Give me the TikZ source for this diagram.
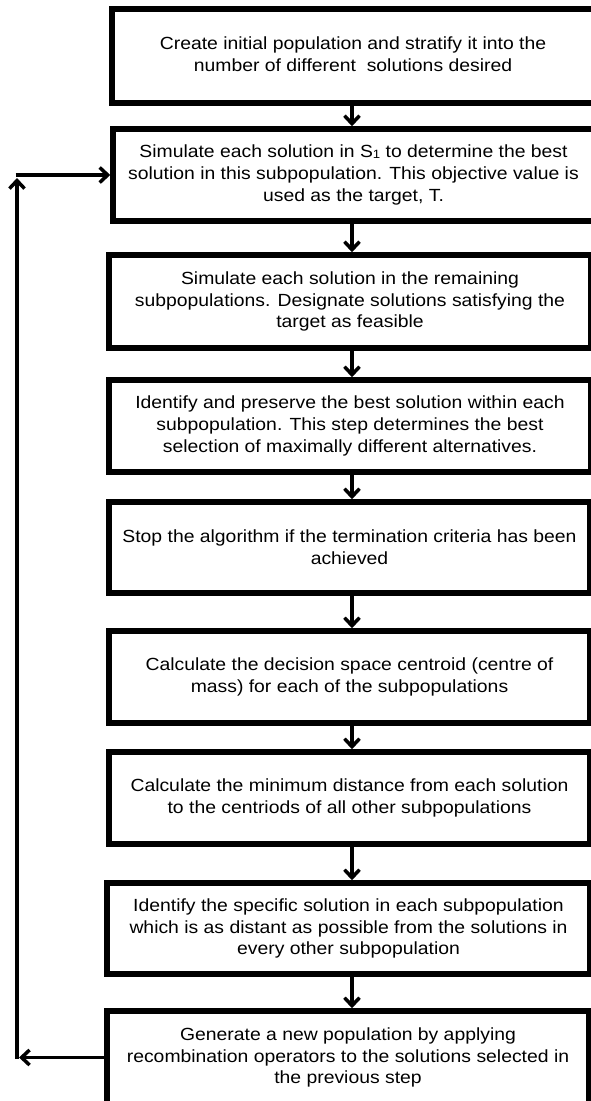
\documentclass[tikz,border=0pt]{standalone}
\usepackage{fontspec}
\setmainfont{Liberation Sans}[FakeStretch=1.1]
\usetikzlibrary{arrows.meta}
\tikzset{
  box/.style={draw, line width=5.5pt, align=center, inner sep=0pt,
    font=\fontsize{17.6}{21.7}\selectfont},
  conn/.style={line width=3.5pt, -{Straight Barb[length=8pt,width=15pt]}}
}
\newcommand{\subone}{\raisebox{-0.5pt}{\fontsize{12}{12}\selectfont 1}}
\begin{document}
\begin{tikzpicture}[x=1pt,y=-1pt]
\useasboundingbox (0,0) rectangle (590,1101);
\node[box, minimum width=482pt, minimum height=94pt] (b1) at (353,56)
  {\raisebox{3pt}{\begin{tabular}{@{}c@{}}Create initial population and stratify it into the\\number of different\ \ solutions desired\end{tabular}}};
\node[box, minimum width=481pt, minimum height=92pt] (b2) at (353.5,175)
  {Simulate each solution in S\subone{} to determine the best\\solution in this subpopulation. This objective value is\\used as the target, T.};
\node[box, minimum width=482pt, minimum height=93pt] (b3) at (350,301.5)
  {Simulate each solution in the remaining\\subpopulations. Designate solutions satisfying the\\target as feasible};
\node[box, minimum width=482pt, minimum height=92pt] (b4) at (350,426)
  {Identify and preserve the best solution within each\\subpopulation. This step determines the best\\selection of maximally different alternatives.};
\node[box, minimum width=481pt, minimum height=91pt] (b5) at (349.5,547.5)
  {Stop the algorithm if the termination criteria has been\\achieved};
\node[box, minimum width=481pt, minimum height=92pt] (b6) at (349.5,677)
  {Calculate the decision space centroid (centre of\\mass) for each of the subpopulations};
\node[box, minimum width=481pt, minimum height=92pt] (b7) at (349.5,798)
  {Calculate the minimum distance from each solution\\to the centriods of all other subpopulations};
\node[box, minimum width=483pt, minimum height=91pt] (b8) at (348.5,928.5)
  {Identify the specific solution in each subpopulation\\which is as distant as possible from the solutions in\\every other subpopulation};
\node[box, minimum width=482pt, minimum height=93pt] (b9) at (348,1057.5)
  {Generate a new population by applying\\recombination operators to the solutions selected in\\the previous step};

\foreach \a/\b in {b1/b2,b2/b3,b3/b4,b4/b5,b5/b6,b6/b7,b7/b8,b8/b9}
  \draw[conn] (352,0 |- \a.south) -- (352,0 |- \b.north);

\coordinate (lb) at (19,1057.5);
\coordinate (lvb) at (17,1059);
\coordinate (lvt) at (17,178);
\coordinate (lt) at (15.5,175);
\draw[conn] (b9.west) -- (lb);
\draw[conn] (lvb) -- (lvt);
\draw[conn] (lt) -- (b2.west);
\end{tikzpicture}
\end{document}
